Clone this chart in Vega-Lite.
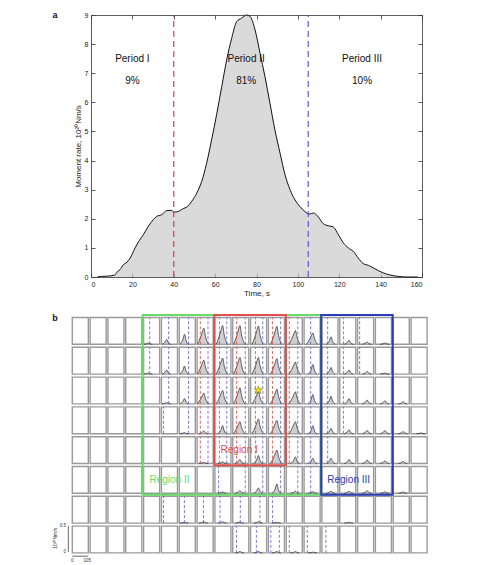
{
  "$schema": "https://vega.github.io/schema/vega-lite/v6.json",
  "padding": {"left": 52, "top": 11, "right": 4, "bottom": 4},
  "spacing": 17,
  "background": "white",
  "config": {
    "view": {"stroke": null},
    "font": "Liberation Sans",
    "axis": {
      "labelFontSize": 7, "titleFontSize": 8, "labelColor": "#222", "titleColor": "#222",
      "titleFontWeight": "normal", "domainColor": "#333", "tickColor": "#333",
      "tickSize": -4, "labelPadding": 7, "grid": false, "domainWidth": 0.8, "tickWidth": 0.8,
      "labelFont": "Liberation Sans", "titleFont": "Liberation Sans"
    }
  },
  "vconcat": [
    {
      "width": 331,
      "height": 262,
      "resolve": {"axis": {"x": "independent", "y": "independent"}},
      "layer": [
        {
          "data": {"values": [
            {"t":3,"m":0},{"t":5,"m":0.02},{"t":8,"m":0.03},{"t":11.5,"m":0.07},{"t":12.7,"m":0.18},{"t":14,"m":0.25},{"t":15.6,"m":0.42},{"t":16.9,"m":0.48},{"t":18.9,"m":0.65},{"t":21.3,"m":1.0},{"t":23.4,"m":1.26},{"t":25.3,"m":1.45},{"t":27.7,"m":1.74},{"t":30.1,"m":1.97},{"t":31.7,"m":2.08},{"t":34.2,"m":2.14},{"t":36.6,"m":2.28},{"t":38.7,"m":2.29},{"t":40.3,"m":2.23},{"t":42.2,"m":2.25},{"t":44.3,"m":2.34},{"t":46.6,"m":2.42},{"t":48.7,"m":2.6},{"t":51.1,"m":2.88},{"t":53.5,"m":3.28},{"t":55.9,"m":3.91},{"t":58.3,"m":4.71},{"t":60.7,"m":5.57},{"t":63.2,"m":6.54},{"t":65.6,"m":7.46},{"t":68,"m":8.2},{"t":70.4,"m":8.77},{"t":72.8,"m":8.89},{"t":75.2,"m":9.0},{"t":76.9,"m":8.95},{"t":79.3,"m":8.49},{"t":81.7,"m":7.69},{"t":84.1,"m":6.88},{"t":86.5,"m":5.97},{"t":88.9,"m":5.05},{"t":91.4,"m":4.25},{"t":93.8,"m":3.51},{"t":96.2,"m":3.0},{"t":98.6,"m":2.65},{"t":101,"m":2.42},{"t":103.4,"m":2.25},{"t":105.5,"m":2.16},{"t":107.5,"m":2.2},{"t":109.9,"m":2.06},{"t":112.3,"m":1.83},{"t":114.7,"m":1.76},{"t":117.1,"m":1.72},{"t":119.6,"m":1.45},{"t":122,"m":1.17},{"t":124.4,"m":1.0},{"t":126.8,"m":0.88},{"t":129.2,"m":0.65},{"t":131.6,"m":0.46},{"t":134.1,"m":0.4},{"t":136.5,"m":0.31},{"t":138.9,"m":0.22},{"t":141.3,"m":0.14},{"t":144.5,"m":0.07},{"t":148.6,"m":0.02},{"t":152.7,"m":0},{"t":158,"m":0}
          ]},
          "mark": {"type": "area", "color": "#cbcbcb", "interpolate": "monotone", "line": {"color": "#111", "strokeWidth": 1}},
          "encoding": {
            "x": {"field": "t", "type": "quantitative", "scale": {"domain": [0, 160], "nice": false},
                  "axis": {"values": [0,20,40,60,80,100,120,140,160], "title": "Time, s", "titlePadding": 2}},
            "y": {"field": "m", "type": "quantitative", "scale": {"domain": [0, 9], "nice": false},
                  "axis": {"values": [0,1,2,3,4,5,6,7,8,9], "title": "Moment rate, 10²⁰Nm/s", "titlePadding": 2}}
          }
        },
        {
          "data": {"values": [{"t": 40, "k": "a"}, {"t": 105, "k": "b"}]},
          "mark": {"type": "rule", "strokeDash": [6, 4], "strokeWidth": 1.2},
          "encoding": {
            "x": {"field": "t", "type": "quantitative", "axis": null},
            "y": {"datum": 0, "axis": null},
            "y2": {"datum": 9},
            "color": {"field": "k", "type": "nominal", "scale": {"domain": ["a", "b"], "range": ["#e03c3c", "#5a5ae0"]}, "legend": null}
          }
        },
        {
          "data": {"values": [
            {"t": 20, "y": 7.5, "s": "Period I"}, {"t": 20, "y": 6.75, "s": "9%"},
            {"t": 75, "y": 7.5, "s": "Period II"}, {"t": 75, "y": 6.75, "s": "81%"},
            {"t": 131, "y": 7.5, "s": "Period III"}, {"t": 131, "y": 6.75, "s": "10%"}
          ]},
          "mark": {"type": "text", "fontSize": 10, "color": "#111", "baseline": "middle"},
          "encoding": {
            "x": {"field": "t", "type": "quantitative", "axis": {"orient": "top", "labels": false, "title": null, "values": [0,20,40,60,80,100,120,140,160]}},
            "y": {"field": "y", "type": "quantitative", "axis": {"orient": "right", "labels": false, "title": null, "values": [0,1,2,3,4,5,6,7,8,9]}},
            "text": {"field": "s"}
          }
        },
        {
          "data": {"values": [{"t": -17.4, "y": 9.0, "s": "a"}]},
          "mark": {"type": "text", "fontSize": 9, "fontWeight": "bold", "baseline": "middle", "color": "#111"},
          "encoding": {
            "x": {"field": "t", "type": "quantitative", "axis": null},
            "y": {"field": "y", "type": "quantitative", "axis": null},
            "text": {"field": "s"}
          }
        }
      ]
    },
    {
      "width": 337,
      "height": 238.4,
      "encoding": {
        "x": {"field": "X", "type": "quantitative", "scale": {"domain": [1.1, 20], "nice": false, "zero": false}, "axis": null},
        "y": {"field": "Y", "type": "quantitative", "scale": {"domain": [0, 8], "nice": false, "zero": false}, "axis": null}
      },
      "layer": [
        {
          "data": {"values": [
            {"r":0,"c":[0,1,2,3,4,5,6,7,8,9,10,11,12,13,14,15,16,17,18,19]},
            {"r":1,"c":[0,1,2,3,4,5,6,7,8,9,10,11,12,13,14,15,16,17,18,19]},
            {"r":2,"c":[0,1,2,3,4,5,6,7,8,9,10,11,12,13,14,15,16,17,18,19]},
            {"r":3,"c":[0,1,2,3,4,5,6,7,8,9,10,11,12,13,14,15,16,17,18,19]},
            {"r":4,"c":[0,1,2,3,4,5,6,7,8,9,10,11,12,13,14,15,16,17,18,19]},
            {"r":5,"c":[0,1,2,3,4,5,6,7,8,9,10,11,12,13,14,15,16,17,18,19]},
            {"r":6,"c":[0,1,2,3,4,5,6,7,8,9,10,11,12,13,14,15,16,17,18,19]},
            {"r":7,"c":[0,1,2,3,4,5,6,7,8,9,10,11,12,13,14,15,16,17,18,19]}
          ]},
          "transform": [
            {"flatten": ["c"]},
            {"calculate": "datum.c + 0.05", "as": "X"},
            {"calculate": "datum.c + 0.95", "as": "X2"},
            {"calculate": "7.05 - datum.r", "as": "Y"},
            {"calculate": "7.95 - datum.r", "as": "Y2"}
          ],
          "mark": {"type": "rect", "fill": "white", "stroke": "#9a9a9a", "strokeWidth": 1.4},
          "encoding": {"x2": {"field": "X2"}, "y2": {"field": "Y2"}}
        },
        {
          "data": {"values": [
            {"c":4,"r":0,"t":[0.02,0.18,0.3,0.4,0.55],"a":[0,0.02,0.05,0.02,0]},
            {"c":5,"r":0,"t":[0.03,0.21,0.33,0.43,0.58],"a":[0,0.07,0.18,0.06,0]},
            {"c":6,"r":0,"t":[0.03,0.21,0.33,0.43,0.58],"a":[0,0.15,0.37,0.13,0]},
            {"c":7,"r":0,"t":[0.02,0.2,0.32,0.42,0.52,0.72],"a":[0,0.24,0.45,0.6,0.3,0]},
            {"c":8,"r":0,"t":[0.08,0.26,0.38,0.48,0.58,0.78],"a":[0,0.28,0.53,0.7,0.35,0]},
            {"c":9,"r":0,"t":[0.05,0.23,0.35,0.45,0.55,0.75],"a":[0,0.28,0.53,0.7,0.35,0]},
            {"c":10,"r":0,"t":[0.09,0.27,0.39,0.49,0.59,0.79],"a":[0,0.27,0.51,0.68,0.34,0]},
            {"c":11,"r":0,"t":[0.13,0.31,0.43,0.53,0.63,0.83],"a":[0,0.27,0.5,0.67,0.34,0]},
            {"c":12,"r":0,"t":[0.17,0.35,0.47,0.57,0.67,0.87],"a":[0,0.21,0.39,0.52,0.26,0]},
            {"c":13,"r":0,"t":[0.15,0.33,0.45,0.55,0.65,0.85],"a":[0,0.17,0.32,0.42,0.21,0]},
            {"c":14,"r":0,"t":[0.27,0.45,0.57,0.67,0.82],"a":[0,0.11,0.28,0.1,0]},
            {"c":15,"r":0,"t":[0.28,0.46,0.58,0.68,0.83],"a":[0,0.06,0.15,0.05,0]},
            {"c":16,"r":0,"t":[0.3,0.48,0.6,0.7,0.85],"a":[0,0.04,0.09,0.03,0]},
            {"c":17,"r":0,"t":[0.3,0.48,0.6,0.7,0.85],"a":[0,0.02,0.05,0.02,0]},

            {"c":4,"r":1,"t":[0.02,0.18,0.3,0.4,0.55],"a":[0,0.02,0.04,0.01,0]},
            {"c":5,"r":1,"t":[0.03,0.21,0.33,0.43,0.58],"a":[0,0.06,0.15,0.05,0]},
            {"c":6,"r":1,"t":[0.03,0.21,0.33,0.43,0.58],"a":[0,0.12,0.3,0.1,0]},
            {"c":7,"r":1,"t":[0.02,0.2,0.32,0.42,0.52,0.72],"a":[0,0.21,0.39,0.52,0.26,0]},
            {"c":8,"r":1,"t":[0.08,0.26,0.38,0.48,0.58,0.78],"a":[0,0.24,0.45,0.6,0.3,0]},
            {"c":9,"r":1,"t":[0.05,0.23,0.35,0.45,0.55,0.75],"a":[0,0.25,0.47,0.62,0.31,0]},
            {"c":10,"r":1,"t":[0.09,0.27,0.39,0.49,0.59,0.79],"a":[0,0.25,0.47,0.62,0.31,0]},
            {"c":11,"r":1,"t":[0.13,0.31,0.43,0.53,0.63,0.83],"a":[0,0.23,0.44,0.58,0.29,0]},
            {"c":12,"r":1,"t":[0.17,0.35,0.47,0.57,0.67,0.87],"a":[0,0.18,0.34,0.45,0.23,0]},
            {"c":13,"r":1,"t":[0.25,0.43,0.55,0.65,0.8],"a":[0,0.14,0.36,0.13,0]},
            {"c":14,"r":1,"t":[0.27,0.45,0.57,0.67,0.82],"a":[0,0.1,0.25,0.09,0]},
            {"c":15,"r":1,"t":[0.28,0.46,0.58,0.68,0.83],"a":[0,0.06,0.15,0.05,0]},
            {"c":16,"r":1,"t":[0.3,0.48,0.6,0.7,0.85],"a":[0,0.04,0.1,0.04,0]},
            {"c":17,"r":1,"t":[0.3,0.48,0.6,0.7,0.85],"a":[0,0.02,0.04,0.01,0]},

            {"c":5,"r":2,"t":[0.03,0.21,0.33,0.43,0.58],"a":[0,0.02,0.05,0.02,0]},
            {"c":6,"r":2,"t":[0.03,0.21,0.33,0.43,0.58],"a":[0,0.08,0.2,0.07,0]},
            {"c":7,"r":2,"t":[0.02,0.2,0.32,0.42,0.52,0.72],"a":[0,0.16,0.3,0.4,0.2,0]},
            {"c":8,"r":2,"t":[0.08,0.26,0.38,0.48,0.58,0.78],"a":[0,0.2,0.38,0.5,0.25,0]},
            {"c":9,"r":2,"t":[0.05,0.23,0.35,0.45,0.55,0.75],"a":[0,0.24,0.45,0.6,0.3,0]},
            {"c":10,"r":2,"t":[0.09,0.27,0.39,0.49,0.59,0.79],"a":[0,0.18,0.34,0.45,0.23,0]},
            {"c":11,"r":2,"t":[0.13,0.31,0.43,0.53,0.63,0.83],"a":[0,0.22,0.41,0.55,0.28,0]},
            {"c":12,"r":2,"t":[0.17,0.35,0.47,0.57,0.67,0.87],"a":[0,0.18,0.34,0.45,0.23,0]},
            {"c":13,"r":2,"t":[0.25,0.43,0.55,0.65,0.8],"a":[0,0.14,0.35,0.12,0]},
            {"c":14,"r":2,"t":[0.27,0.45,0.57,0.67,0.82],"a":[0,0.11,0.28,0.1,0]},
            {"c":15,"r":2,"t":[0.28,0.46,0.58,0.68,0.83],"a":[0,0.08,0.2,0.07,0]},
            {"c":16,"r":2,"t":[0.3,0.48,0.6,0.7,0.85],"a":[0,0.06,0.14,0.05,0]},
            {"c":17,"r":2,"t":[0.3,0.48,0.6,0.7,0.85],"a":[0,0.05,0.12,0.04,0]},
            {"c":18,"r":2,"t":[0.32,0.5,0.62,0.72,0.87],"a":[0,0.03,0.08,0.03,0]},

            {"c":6,"r":3,"t":[0.03,0.21,0.33,0.43,0.58],"a":[0,0.02,0.04,0.01,0]},
            {"c":7,"r":3,"t":[0.12,0.3,0.42,0.52,0.67],"a":[0,0.04,0.1,0.04,0]},
            {"c":8,"r":3,"t":[0.18,0.36,0.48,0.58,0.73],"a":[0,0.12,0.3,0.1,0]},
            {"c":9,"r":3,"t":[0.05,0.23,0.35,0.45,0.55,0.75],"a":[0,0.18,0.34,0.45,0.23,0]},
            {"c":10,"r":3,"t":[0.09,0.27,0.39,0.49,0.59,0.79],"a":[0,0.22,0.41,0.55,0.28,0]},
            {"c":11,"r":3,"t":[0.13,0.31,0.43,0.53,0.63,0.83],"a":[0,0.2,0.38,0.5,0.25,0]},
            {"c":12,"r":3,"t":[0.17,0.35,0.47,0.57,0.67,0.87],"a":[0,0.18,0.34,0.45,0.23,0]},
            {"c":13,"r":3,"t":[0.25,0.43,0.55,0.65,0.8],"a":[0,0.12,0.3,0.1,0]},
            {"c":14,"r":3,"t":[0.27,0.45,0.57,0.67,0.82],"a":[0,0.08,0.2,0.07,0]},
            {"c":15,"r":3,"t":[0.28,0.46,0.58,0.68,0.83],"a":[0,0.06,0.15,0.05,0]},
            {"c":16,"r":3,"t":[0.3,0.48,0.6,0.7,0.85],"a":[0,0.05,0.12,0.04,0]},
            {"c":17,"r":3,"t":[0.3,0.48,0.6,0.7,0.85],"a":[0,0.05,0.12,0.04,0]},
            {"c":18,"r":3,"t":[0.32,0.5,0.62,0.72,0.87],"a":[0,0.03,0.08,0.03,0]},
            {"c":19,"r":3,"t":[0.32,0.5,0.62,0.72,0.87],"a":[0,0.01,0.03,0.01,0]},

            {"c":7,"r":4,"t":[0.12,0.3,0.42,0.52,0.67],"a":[0,0.02,0.04,0.01,0]},
            {"c":8,"r":4,"t":[0.18,0.36,0.48,0.58,0.73],"a":[0,0.02,0.06,0.02,0]},
            {"c":9,"r":4,"t":[0.15,0.33,0.45,0.55,0.7],"a":[0,0.06,0.15,0.05,0]},
            {"c":10,"r":4,"t":[0.19,0.37,0.49,0.59,0.74],"a":[0,0.12,0.3,0.1,0]},
            {"c":11,"r":4,"t":[0.13,0.31,0.43,0.53,0.63,0.83],"a":[0,0.2,0.38,0.5,0.25,0]},
            {"c":12,"r":4,"t":[0.27,0.45,0.57,0.67,0.82],"a":[0,0.1,0.25,0.09,0]},
            {"c":13,"r":4,"t":[0.25,0.43,0.55,0.65,0.8],"a":[0,0.08,0.2,0.07,0]},
            {"c":14,"r":4,"t":[0.27,0.45,0.57,0.67,0.82],"a":[0,0.08,0.2,0.07,0]},
            {"c":15,"r":4,"t":[0.28,0.46,0.58,0.68,0.83],"a":[0,0.06,0.15,0.05,0]},
            {"c":16,"r":4,"t":[0.3,0.48,0.6,0.7,0.85],"a":[0,0.05,0.13,0.05,0]},
            {"c":17,"r":4,"t":[0.3,0.48,0.6,0.7,0.85],"a":[0,0.04,0.1,0.04,0]},
            {"c":18,"r":4,"t":[0.32,0.5,0.62,0.72,0.87],"a":[0,0.03,0.08,0.03,0]},

            {"c":8,"r":5,"t":[0.18,0.36,0.48,0.58,0.73],"a":[0,0.02,0.05,0.02,0]},
            {"c":9,"r":5,"t":[0.15,0.33,0.45,0.55,0.7],"a":[0,0.04,0.1,0.04,0]},
            {"c":10,"r":5,"t":[0.19,0.37,0.49,0.59,0.74],"a":[0,0.08,0.2,0.07,0]},
            {"c":11,"r":5,"t":[0.23,0.41,0.53,0.63,0.78],"a":[0,0.14,0.35,0.12,0]},
            {"c":12,"r":5,"t":[0.27,0.45,0.57,0.67,0.82],"a":[0,0.03,0.08,0.03,0]},
            {"c":13,"r":5,"t":[0.25,0.43,0.55,0.65,0.8],"a":[0,0.02,0.06,0.02,0]},
            {"c":14,"r":5,"t":[0.27,0.45,0.57,0.67,0.82],"a":[0,0.03,0.08,0.03,0]},
            {"c":15,"r":5,"t":[0.28,0.46,0.58,0.68,0.83],"a":[0,0.03,0.08,0.03,0]},
            {"c":16,"r":5,"t":[0.3,0.48,0.6,0.7,0.85],"a":[0,0.04,0.1,0.04,0]},
            {"c":17,"r":5,"t":[0.3,0.48,0.6,0.7,0.85],"a":[0,0.02,0.06,0.02,0]},
            {"c":18,"r":5,"t":[0.32,0.5,0.62,0.72,0.87],"a":[0,0.02,0.05,0.02,0]},

            {"c":6,"r":6,"t":[0.03,0.21,0.33,0.43,0.58],"a":[0,0.01,0.02,0.01,0]},
            {"c":7,"r":6,"t":[0.12,0.3,0.42,0.52,0.67],"a":[0,0.02,0.05,0.02,0]},
            {"c":8,"r":6,"t":[0.18,0.36,0.48,0.58,0.73],"a":[0,0.02,0.05,0.02,0]},
            {"c":9,"r":6,"t":[0.15,0.33,0.45,0.55,0.7],"a":[0,0.02,0.04,0.01,0]},
            {"c":10,"r":6,"t":[0.19,0.37,0.49,0.59,0.74],"a":[0,0.02,0.05,0.02,0]},
            {"c":11,"r":6,"t":[0.23,0.41,0.53,0.63,0.78],"a":[0,0.01,0.03,0.01,0]},
            {"c":15,"r":6,"t":[0.28,0.46,0.58,0.68,0.83],"a":[0,0.01,0.03,0.01,0]},

            {"c":9,"r":7,"t":[0.15,0.33,0.45,0.55,0.7],"a":[0,0.02,0.05,0.02,0]},
            {"c":10,"r":7,"t":[0.19,0.37,0.49,0.59,0.74],"a":[0,0.02,0.05,0.02,0]},
            {"c":11,"r":7,"t":[0.23,0.41,0.53,0.63,0.78],"a":[0,0.02,0.05,0.02,0]},
            {"c":12,"r":7,"t":[0.27,0.45,0.57,0.67,0.82],"a":[0,0.02,0.05,0.02,0]},
            {"c":13,"r":7,"t":[0.25,0.43,0.55,0.65,0.8],"a":[0,0.01,0.03,0.01,0]}
          ]},
          "transform": [
            {"flatten": ["t", "a"]},
            {"calculate": "datum.c + 0.05 + 0.9 * datum.t", "as": "X"},
            {"calculate": "7.05 - datum.r + 0.9 * datum.a", "as": "Y"},
            {"calculate": "7.05 - datum.r", "as": "Y2"}
          ],
          "mark": {"type": "area", "color": "#bababa", "interpolate": "monotone", "line": {"color": "#222", "strokeWidth": 0.7}},
          "encoding": {
            "y2": {"field": "Y2"},
            "detail": [{"field": "c", "type": "nominal"}, {"field": "r", "type": "nominal"}]
          }
        },
        {
          "data": {"values": [
            {"c":4,"p":0.38,"k":"b","rs":[0,1]},
            {"c":5,"p":0.45,"k":"b","rs":[0,1,2]},
            {"c":5,"p":0.13,"k":"b","rs":[3,6]},
            {"c":6,"p":0.58,"k":"b","rs":[0,1,2,3]},
            {"c":6,"p":0.32,"k":"b","rs":[6]},
            {"c":7,"p":0.2,"k":"r","rs":[0,1,2,3,4]},
            {"c":7,"p":0.68,"k":"b","rs":[0,1,2,3,4]},
            {"c":7,"p":0.4,"k":"b","rs":[6]},
            {"c":8,"p":0.28,"k":"r","rs":[0,1,2,3,4]},
            {"c":8,"p":0.74,"k":"b","rs":[0,1,2,3,4]},
            {"c":8,"p":0.23,"k":"b","rs":[5]},
            {"c":8,"p":0.32,"k":"b","rs":[6]},
            {"c":9,"p":0.24,"k":"r","rs":[0,1,2,3,4]},
            {"c":9,"p":0.78,"k":"b","rs":[0,1,2,3,4,5]},
            {"c":9,"p":0.47,"k":"b","rs":[6]},
            {"c":9,"p":0.23,"k":"b","rs":[7]},
            {"c":10,"p":0.3,"k":"r","rs":[0,1,2,3,4]},
            {"c":10,"p":0.76,"k":"b","rs":[0,1,2,3,4,5]},
            {"c":10,"p":0.58,"k":"b","rs":[6]},
            {"c":10,"p":0.36,"k":"b","rs":[7]},
            {"c":11,"p":0.25,"k":"r","rs":[0,1,2,3,4]},
            {"c":11,"p":0.76,"k":"b","rs":[0,1,2,3,4,5]},
            {"c":11,"p":0.25,"k":"b","rs":[6]},
            {"c":11,"p":0.15,"k":"b","rs":[7]},
            {"c":11,"p":0.68,"k":"b","rs":[7]},
            {"c":12,"p":0.19,"k":"r","rs":[0,1,2,3,4]},
            {"c":12,"p":0.72,"k":"b","rs":[0,1,2,3,4,5]},
            {"c":12,"p":0.19,"k":"b","rs":[7]},
            {"c":13,"p":0.41,"k":"b","rs":[0,1,2,3,4,5]},
            {"c":13,"p":0.2,"k":"b","rs":[7]},
            {"c":14,"p":0.36,"k":"b","rs":[0,1,2,3,4]},
            {"c":14,"p":0.25,"k":"b","rs":[7]},
            {"c":15,"p":0.23,"k":"b","rs":[0,1,2,3]},
            {"c":16,"p":0.13,"k":"b","rs":[0,1]}
          ]},
          "transform": [
            {"flatten": ["rs"]},
            {"calculate": "datum.c + 0.05 + 0.9 * datum.p", "as": "X"},
            {"calculate": "7.05 - datum.rs", "as": "Y"},
            {"calculate": "7.95 - datum.rs", "as": "Y2"}
          ],
          "mark": {"type": "rule", "strokeDash": [3, 2], "strokeWidth": 0.8},
          "encoding": {
            "y2": {"field": "Y2"},
            "color": {"field": "k", "type": "nominal", "scale": {"domain": ["r", "b"], "range": ["#e46a6a", "#6262e4"]}, "legend": null}
          }
        },
        {
          "data": {"values": [
            {"g": "Region II", "X": 4.0, "X2": 14.01, "Y": 2.0, "Y2": 8.03},
            {"g": "Region III", "X": 14.01, "X2": 18.02, "Y": 2.0, "Y2": 8.03},
            {"g": "Region I", "X": 8.01, "X2": 12.03, "Y": 2.99, "Y2": 8.03}
          ]},
          "mark": {"type": "rect", "fillOpacity": 0, "fill": "white", "strokeWidth": 2},
          "encoding": {
            "x2": {"field": "X2"}, "y2": {"field": "Y2"},
            "stroke": {"field": "g", "type": "nominal", "scale": {"domain": ["Region I", "Region II", "Region III"], "range": ["#e0504c", "#66dc66", "#2a3cb8"]}, "legend": null}
          }
        },
        {
          "data": {"values": [
            {"g": "Region I", "X": 9.41, "Y": 3.5},
            {"g": "Region II", "X": 5.5, "Y": 2.49},
            {"g": "Region III", "X": 15.55, "Y": 2.49}
          ]},
          "mark": {"type": "text", "fontSize": 10, "baseline": "middle"},
          "encoding": {
            "text": {"field": "g"},
            "fill": {"field": "g", "type": "nominal", "scale": {"domain": ["Region I", "Region II", "Region III"], "range": ["#e0504c", "#66dc66", "#2a3cb8"]}, "legend": null}
          }
        },
        {
          "data": {"values": [{"X": 10.49, "Y": 5.51}]},
          "mark": {"type": "point", "shape": "M0,-1L0.2245,-0.309L0.951,-0.309L0.363,0.118L0.588,0.809L0,0.382L-0.588,0.809L-0.363,0.118L-0.951,-0.309L-0.2245,-0.309Z", "size": 70, "filled": true, "fill": "#f6e600", "stroke": "#8a7a10", "strokeWidth": 0.6, "opacity": 1}
        },
        {
          "data": {"values": [
            {"X": -0.17, "Y": 0.08, "X2": -0.17, "Y2": 0.96},
            {"X": 0.05, "Y": -0.06, "X2": 0.95, "Y2": -0.06}
          ]},
          "mark": {"type": "rule", "color": "#444", "strokeWidth": 0.8},
          "encoding": {"x2": {"field": "X2"}, "y2": {"field": "Y2"}}
        },
        {
          "data": {"values": [
            {"X": -0.3, "Y": 0.96, "s": "0.5"},
            {"X": -0.3, "Y": 0.08, "s": "0"},
            {"X": 0.12, "Y": -0.22, "s": "0"},
            {"X": 1.1, "Y": -0.22, "s": "105"}
          ]},
          "mark": {"type": "text", "fontSize": 4.5, "color": "#333", "baseline": "middle", "align": "right"},
          "encoding": {"text": {"field": "s"}}
        },
        {
          "data": {"values": [{"X": -0.92, "Y": 0.54, "s": "10²⁰Nm/s"}]},
          "mark": {"type": "text", "fontSize": 5, "color": "#333", "baseline": "middle", "align": "center", "angle": 270},
          "encoding": {"text": {"field": "s"}}
        },
        {
          "data": {"values": [{"X": -0.92, "Y": 7.92, "s": "b"}]},
          "mark": {"type": "text", "fontSize": 9, "fontWeight": "bold", "color": "#111", "baseline": "middle", "align": "center"},
          "encoding": {"text": {"field": "s"}}
        }
      ]
    }
  ]
}
